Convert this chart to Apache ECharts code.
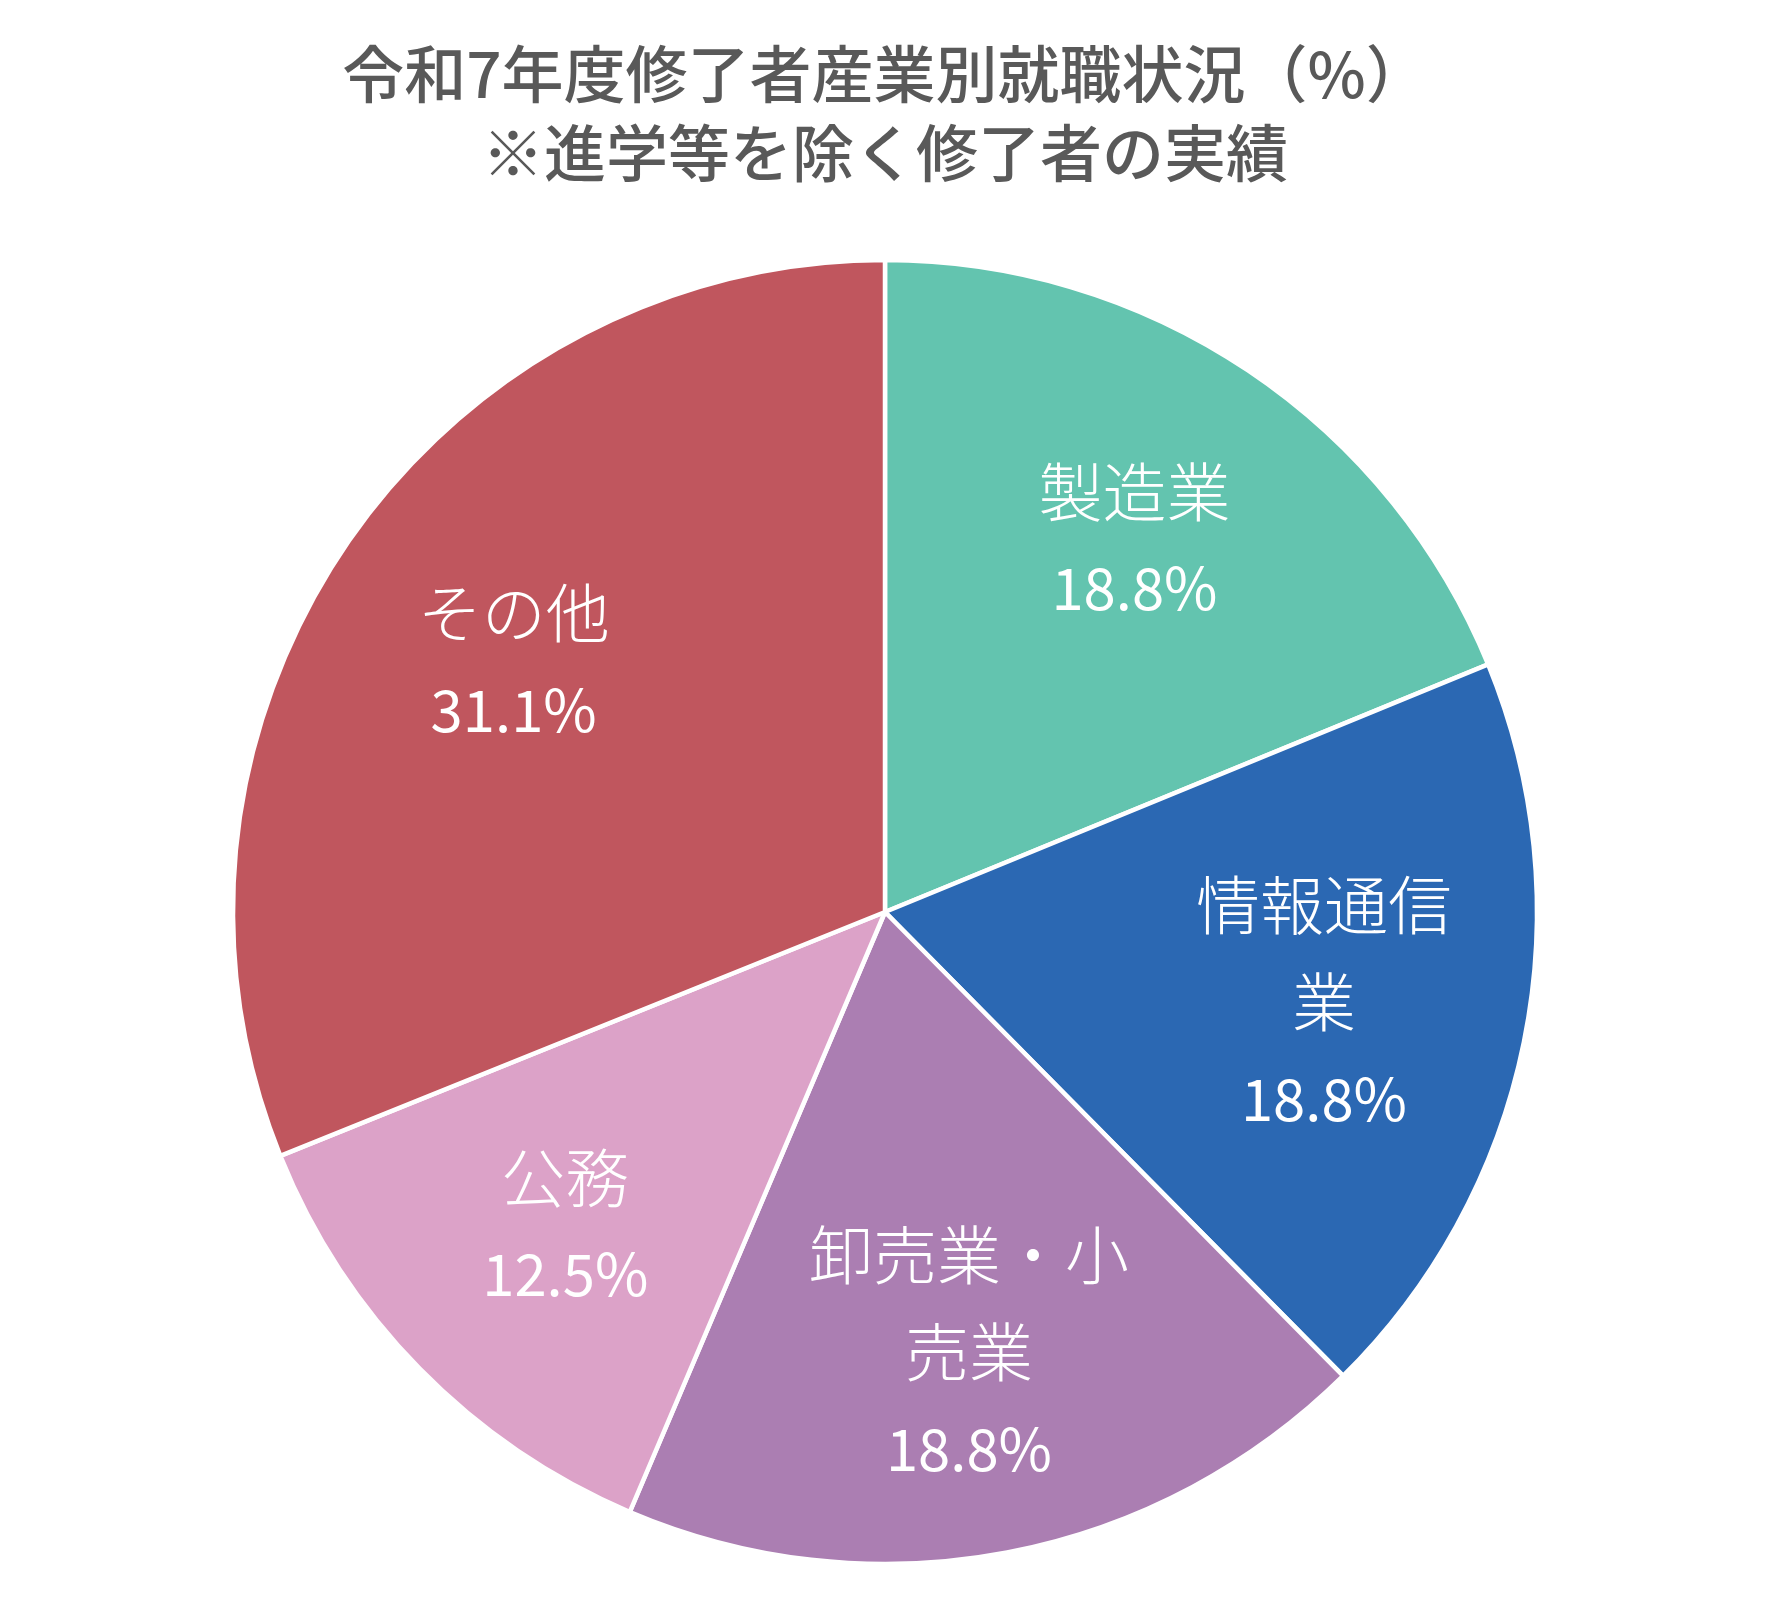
<!DOCTYPE html>
<html><head><meta charset="utf-8">
<script src="https://cdn.jsdelivr.net/npm/echarts@6/dist/echarts.min.js"></script>
<style>html,body{margin:0;padding:0;background:#fff}#c{width:1770px;height:1615px}</style>
</head><body><div id="c"></div>
<script>
const titleLines = ['令和7年度修了者産業別就職状況（%）', '※進学等を除く修了者の実績'];
const categories = ['製造業', '情報通信業', '卸売業・小売業', '公務', 'その他'];
const labelTexts = ['製造業', '情報通信\n業', '卸売業・小\n売業', '公務', 'その他'];
const values = [18.8, 18.8, 18.8, 12.5, 31.1];

const palette = ['#63C4AF', '#2B68B3', '#AB7EB2', '#DCA2C8', '#C0565E'];
const data = categories.map((n, i) => ({ name: n, value: values[i] }));
const chart = echarts.init(document.getElementById('c'), null, { renderer: 'canvas' });
const font = '"Noto Sans CJK JP", "Noto Sans", sans-serif';
chart.setOption({
  animation: false,
  backgroundColor: '#ffffff',
  color: palette,
  title: {
    text: titleLines.join('\n'),
    left: 'center',
    top: 30,
    textStyle: { fontFamily: font, fontSize: 62, fontWeight: 500, color: '#595959', lineHeight: 79 }
  },
  series: [
    {
      type: 'pie',
      center: [885, 912],
      radius: 652,
      startAngle: 90,
      clockwise: true,
      label: { show: false },
      labelLine: { show: false },
      itemStyle: { borderColor: '#ffffff', borderWidth: 4.5 },
      emphasis: { disabled: true },
      data: data
    },
    {
      type: 'pie',
      center: [885, 912],
      radius: [0, 890],
      startAngle: 90,
      clockwise: true,
      silent: true,
      z: 5,
      itemStyle: { color: 'rgba(0,0,0,0)', borderWidth: 0 },
      emphasis: { disabled: true },
      labelLine: { show: false },
      label: {
        show: true,
        position: 'inside',
        color: '#ffffff',
        fontFamily: font,
        align: 'center',
        rich: {
          n: { fontFamily: font, fontSize: 64, fontWeight: 300, color: '#ffffff', lineHeight: 97 },
          v: { fontFamily: font, fontSize: 58, fontWeight: 'normal', color: '#ffffff', lineHeight: 97 }
        },
        formatter: p => labelTexts[p.dataIndex].split('\n').map(s => '{n|' + s + '}').join('\n') +
          '\n{v|' + values[p.dataIndex].toFixed(1) + '%}'
      },
      data: data
    }
  ]
});
</script>
</body></html>
